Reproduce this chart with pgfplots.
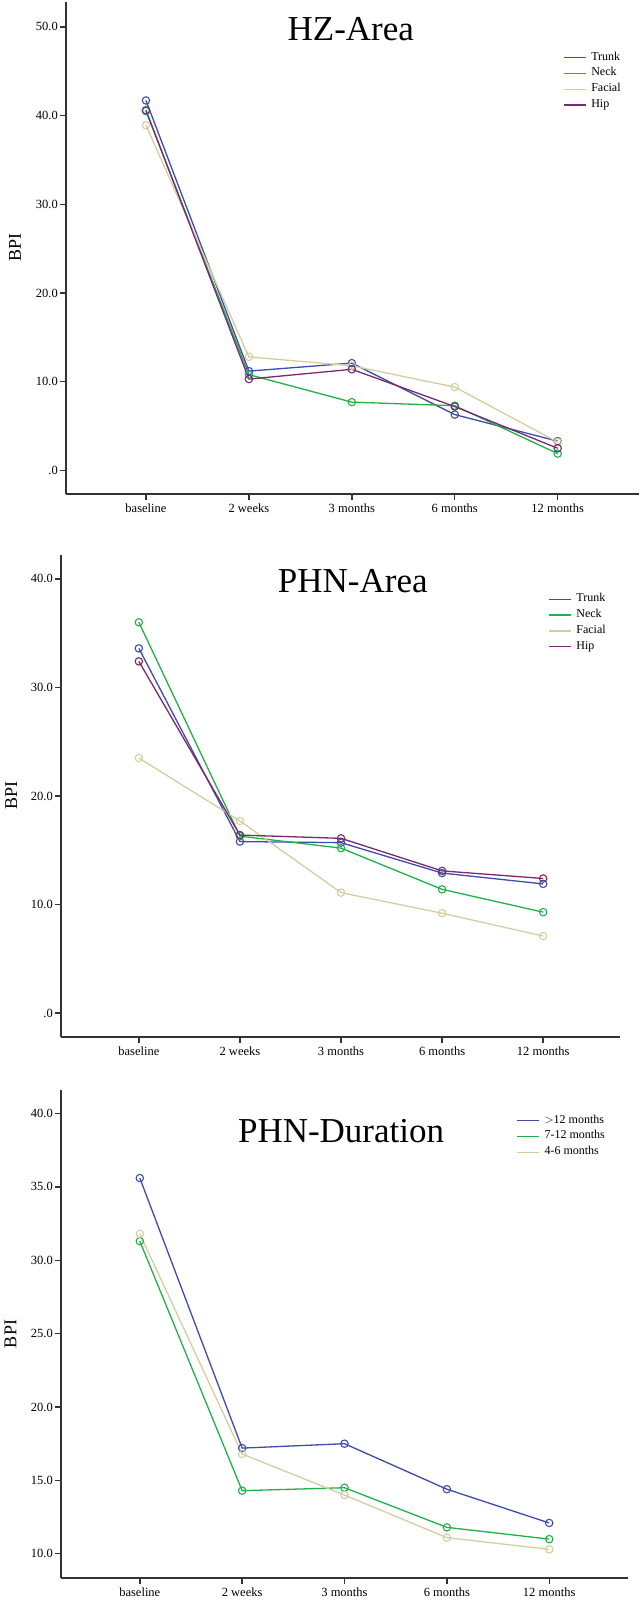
\documentclass[border=0pt]{standalone}
\usepackage{fontspec}
\setmainfont{Liberation Serif}
\usepackage{pgfplots}
\pgfplotsset{compat=1.18}
\definecolor{cTrunk}{RGB}{62,76,170}
\definecolor{cNeck}{RGB}{32,178,72}
\definecolor{cFacial}{RGB}{212,206,158}
\definecolor{cHip}{RGB}{122,40,116}
\tikzset{ttl/.style={anchor=base, font=\fontsize{35}{40}\selectfont}}
\pgfplotsset{
  spss/.style={
    scale only axis,
    axis x line*=bottom, axis y line*=left,
    axis line style={-, line width=1.4pt, color=black!80},
    tick style={line width=1.4pt, color=black!80},
    major tick length=6pt, tick align=outside,
    xtick={0,1,2,3,4},
    xticklabels={baseline,2 weeks,3 months,6 months,12 months},
    tick label style={font=\fontsize{12.5}{14}\selectfont},
    yticklabel style={inner sep=2pt},
    ylabel={BPI},
    ylabel style={font=\fontsize{18}{20}\selectfont, at={(axis description cs:-0.089,0.5)}, anchor=center},
    every axis plot/.append style={line width=1.3pt, mark=o, mark size=3.7pt, mark options={line width=1.1pt}},
    legend image code/.code={\draw[#1, mark=none, line width=1.3pt] (0pt,0pt) -- (22pt,0pt);},
    legend cell align=left,
    legend style={draw=none, fill=none, anchor=north west, inner sep=0pt,
      font=\fontsize{12}{14}\selectfont, row sep=2.8pt,
      nodes={inner sep=1pt, text height=8pt, text depth=3pt},
      /tikz/every odd column/.append style={column sep=4pt}},
    clip=false,
  },
}
\begin{document}
\begin{tikzpicture}
\useasboundingbox (0pt,0pt) rectangle (640pt,1603pt);
% ---------------- Panel 1: HZ-Area
\begin{axis}[spss, at={(66pt,1109pt)}, anchor=south west,
  width=573pt, height=492pt,
  xmin=-0.777, xmax=4.79, ymin=-2.65, ymax=52.8,
  ytick={0,10,20,30,40,50}, yticklabels={.0,10.0,20.0,30.0,40.0,50.0},
  legend style={at={(axis description cs:0.867,0.9005)}}]
\addplot[color=cTrunk] coordinates {(0,41.7) (1,11.2) (2,12.1) (3,6.3) (4,3.3)};
\addlegendentry{Trunk}
\addplot[color=cNeck] coordinates {(0,40.5) (1,10.8) (2,7.7) (3,7.3) (4,1.9)};
\addlegendentry{Neck}
\addplot[color=cFacial] coordinates {(0,38.9) (1,12.8) (2,11.8) (3,9.4) (4,3.2)};
\addlegendentry{Facial}
\addplot[color=cHip] coordinates {(0,40.6) (1,10.3) (2,11.4) (3,7.2) (4,2.5)};
\addlegendentry{Hip}
\node[ttl] at (axis description cs:0.497,0.921) {HZ-Area};
\end{axis}
% ---------------- Panel 2: PHN-Area
\begin{axis}[spss, at={(61pt,566pt)}, anchor=south west,
  width=559pt, height=482pt,
  xmin=-0.77, xmax=4.76, ymin=-2.2, ymax=42.2,
  ytick={0,10,20,30,40}, yticklabels={.0,10.0,20.0,30.0,40.0},
  legend style={at={(axis description cs:0.871,0.922)}}]
\addplot[color=cTrunk] coordinates {(0,33.6) (1,15.8) (2,15.7) (3,12.9) (4,11.9)};
\addlegendentry{Trunk}
\addplot[color=cNeck] coordinates {(0,36.0) (1,16.3) (2,15.2) (3,11.4) (4,9.3)};
\addlegendentry{Neck}
\addplot[color=cFacial] coordinates {(0,23.5) (1,17.7) (2,11.1) (3,9.2) (4,7.1)};
\addlegendentry{Facial}
\addplot[color=cHip] coordinates {(0,32.4) (1,16.4) (2,16.1) (3,13.1) (4,12.4)};
\addlegendentry{Hip}
\node[ttl] at (axis description cs:0.522,0.922) {PHN-Area};
\end{axis}
% ---------------- Panel 3: PHN-Duration
\begin{axis}[spss, at={(61pt,25pt)}, anchor=south west,
  width=567pt, height=488pt,
  xmin=-0.77, xmax=4.77, ymin=8.35, ymax=41.6,
  ytick={10,15,20,25,30,35,40}, yticklabels={10.0,15.0,20.0,25.0,30.0,35.0,40.0},
  legend style={at={(axis description cs:0.8025,0.951)}}]
\addplot[color=cTrunk] coordinates {(0,35.6) (1,17.2) (2,17.5) (3,14.4) (4,12.1)};
\addlegendentry{$>$12 months}
\addplot[color=cNeck] coordinates {(0,31.3) (1,14.3) (2,14.5) (3,11.8) (4,11.0)};
\addlegendentry{7-12 months}
\addplot[color=cFacial] coordinates {(0,31.8) (1,16.8) (2,14.0) (3,11.1) (4,10.3)};
\addlegendentry{4-6 months}
\node[ttl] at (axis description cs:0.494,0.893) {PHN-Duration};
\end{axis}
\end{tikzpicture}
\end{document}
